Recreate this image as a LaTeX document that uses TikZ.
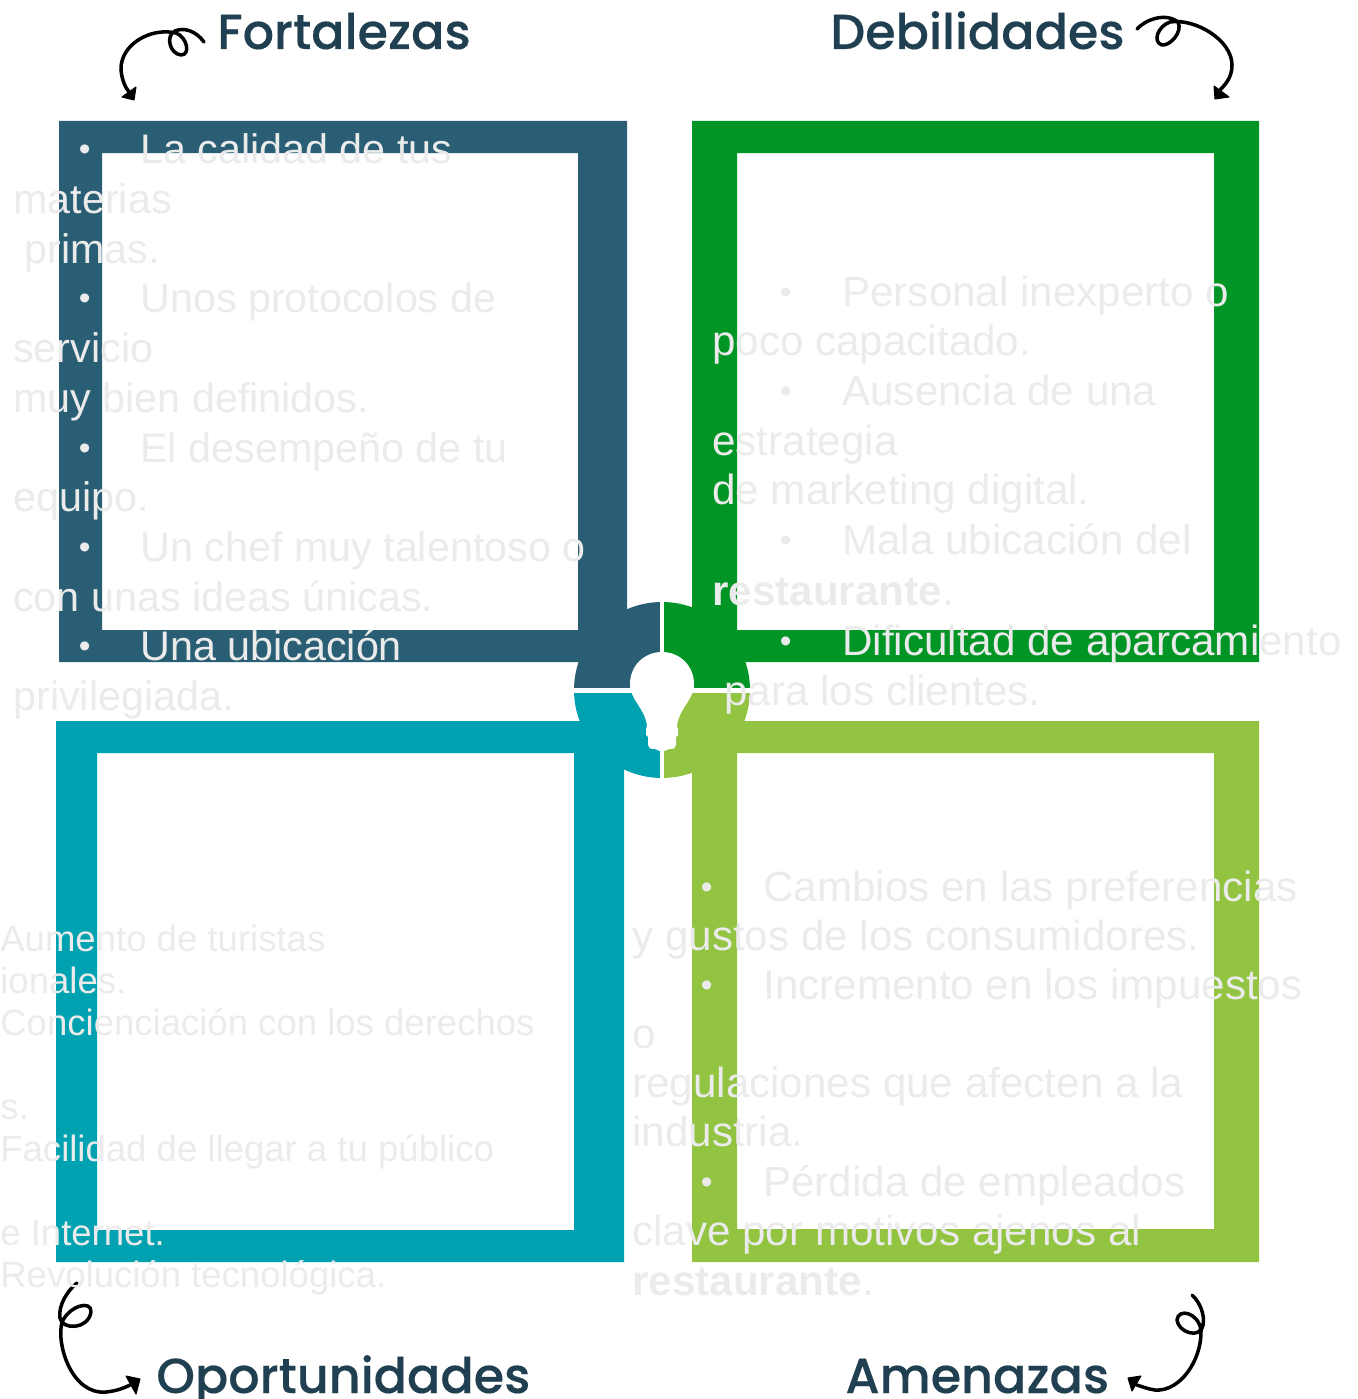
\documentclass[tikz,border=0pt]{standalone}
\usepackage{fontspec}
\setmainfont{Liberation Sans}
\newfontfamily\headfont[UprightFont={* Medium}, FakeBold=0.25]{Poppins}
\usetikzlibrary{arrows.meta}
\definecolor{fortcol}{HTML}{295E74}
\definecolor{debcol}{HTML}{019525}
\definecolor{opocol}{HTML}{00A2B1}
\definecolor{amecol}{HTML}{92C441}
\definecolor{headcol}{HTML}{203F50}
\definecolor{bodycol}{HTML}{EBEBEB}
\tikzset{
    body/.style={anchor=base west, inner sep=0pt, text=bodycol, font=\fontsize{23.5}{28}\selectfont},
    bodywide/.style={body, font=\fontsize{24}{28}\selectfont},
    bodysmall/.style={body, font=\fontsize{20.8}{24}\selectfont},
    bodybold/.style={body, font=\fontsize{24}{28}\selectfont\bfseries},
    dotmark/.style={body, font=\fontsize{19}{24}\selectfont, xshift=0.9pt, yshift=1.7pt},
    heading/.style={anchor=base west, inner sep=0pt, text=headcol, font=\headfont\fontsize{28}{32}\selectfont},
    squiggle/.style={line width=2pt, line cap=round, line join=round},
    squigtip/.style={fill=black, draw=black, line width=0.6pt, line join=round}
}
\begin{document}
\begin{tikzpicture}[x=0.02cm, y=-0.02cm]
    \useasboundingbox (0, 0) rectangle (1358, 1399);

    % frames
    \fill[fortcol, even odd rule] (59, 121) rectangle (627, 662) (102, 153) rectangle (578, 630);
    \fill[debcol, even odd rule] (692, 121) rectangle (1259, 662) (737, 153) rectangle (1214, 630);
    \fill[opocol, even odd rule] (56, 721) rectangle (624, 1262) (97, 753) rectangle (574, 1230);
    \fill[amecol, even odd rule] (692, 721) rectangle (1259, 1262) (737, 753) rectangle (1214, 1229);

    % centre disc
    \fill[fortcol] (662, 690) -- (574, 690) arc (180:270:88) -- cycle;
    \fill[debcol] (662, 690) -- (662, 602) arc (270:360:88) -- cycle;
    \fill[amecol] (662, 690) -- (750, 690) arc (0:90:88) -- cycle;
    \fill[opocol] (662, 690) -- (662, 778) arc (90:180:88) -- cycle;
    \draw[white, line width=2.3pt] (662, 600) -- (662, 780);
    \draw[white, line width=2.3pt] (572, 690.5) -- (752, 690.5);

    % bulb
    \fill[white] (662, 652) .. controls (644, 652) and (630, 666) .. (630, 684)
        .. controls (630, 700) and (645, 708) .. (647, 726) -- (646, 729) -- (646, 735) -- (648, 737) -- (648, 745)
        .. controls (648, 748) and (650, 749) .. (655, 749) -- (662, 752) -- (669, 749)
        .. controls (674, 749) and (676, 748) .. (676, 745) -- (676, 737) -- (678, 735) -- (678, 729) -- (677, 726)
        .. controls (679, 708) and (694, 700) .. (694, 684) .. controls (694, 666) and (680, 652) .. (662, 652) -- cycle;

    % headings
    \node[heading] (fort) at (217, 49) {Fortalezas};
    \node[heading] (deb) at (830, 49) {Debilidades};
    \node[heading] (opo) at (156, 1393) {Oportunidades};
    \node[heading] (ame) at (845, 1393) {Amenazas};

    % curly arrows
    \draw[squiggle] (204, 42) .. controls (196, 31) and (184, 27) .. (175, 31) .. controls (165, 36) and (170, 54) .. (181, 55)
        .. controls (191, 55) and (187, 37) .. (176, 33) .. controls (150, 27) and (120, 45) .. (121, 70)
        .. controls (122, 80) and (125, 87) .. (129, 92);
    \fill[squigtip] (122, 97) -- (136, 87) -- (134, 100) -- cycle;
    \draw[squiggle] (1137, 29) .. controls (1145, 20) and (1165, 12) .. (1178, 22) .. controls (1183, 32) and (1170, 46) .. (1162, 45)
        .. controls (1152, 42) and (1158, 26) .. (1170, 22) .. controls (1195, 18) and (1232, 40) .. (1232, 65)
        .. controls (1232, 78) and (1225, 85) .. (1218, 92);
    \draw[squigtip] (1214, 86) -- (1229, 97) -- (1215, 99) -- cycle;
    \draw[squiggle] (77, 1283) .. controls (68, 1290) and (58, 1305) .. (60, 1318) .. controls (62, 1330) and (88, 1330) .. (91, 1312)
        .. controls (92, 1300) and (70, 1305) .. (62, 1322) .. controls (56, 1345) and (72, 1395) .. (106, 1392)
        .. controls (115, 1391) and (122, 1389) .. (130, 1385);
    \fill[squigtip] (126, 1376) -- (140, 1379) -- (136, 1394) -- cycle;
    \draw[squiggle] (1192, 1295) .. controls (1200, 1302) and (1205, 1315) .. (1203, 1325) .. controls (1200, 1340) and (1178, 1332) .. (1177, 1320)
        .. controls (1178, 1308) and (1198, 1312) .. (1201, 1330) .. controls (1202, 1360) and (1180, 1392) .. (1155, 1390)
        .. controls (1148, 1389) and (1143, 1387) .. (1137, 1385);
    \fill[squigtip] (1128, 1378) -- (1141, 1376) -- (1132, 1391) -- cycle;

    % top left text
    \node[dotmark] (f1b) at (77, 163) {•};
    \node[body] (f1) at (140, 163) {La calidad de tus};
    \node[body] (f2) at (13, 213) {materias};
    \node[body] (f3) at (24, 263) {primas.};
    \node[dotmark] (f4b) at (77, 312) {•};
    \node[body] (f4) at (140, 312) {Unos protocolos de};
    \node[body] (f5) at (13, 362) {servicio};
    \node[body] (f6) at (13, 412) {muy bien definidos.};
    \node[dotmark] (f7b) at (77, 462) {•};
    \node[body] (f7) at (140, 462) {El desempeño de tu};
    \node[body] (f8) at (13, 511) {equipo.};
    \node[dotmark] (f9b) at (77, 561) {•};
    \node[body] (f9) at (140, 561) {Un chef muy talentoso o};
    \node[body] (f10) at (13, 611) {con unas ideas únicas.};
    \node[dotmark] (f11b) at (77, 660) {•};
    \node[body] (f11) at (140, 660) {Una ubicación};
    \node[body] (f12) at (13, 710) {privilegiada.};

    % top right text
    \node[dotmark] (d1b) at (778, 306) {•};
    \node[bodywide] (d1) at (842, 306) {Personal inexperto o};
    \node[bodywide] (d2) at (712, 355) {poco capacitado.};
    \node[dotmark] (d3b) at (778, 405) {•};
    \node[bodywide] (d3) at (842, 405) {Ausencia de una};
    \node[bodywide] (d4) at (712, 455) {estrategia};
    \node[bodywide] (d5) at (712, 504) {de marketing digital.};
    \node[dotmark] (d6b) at (778, 554) {•};
    \node[bodywide] (d6) at (842, 554) {Mala ubicación del};
    \node[bodybold] (d7) at (712, 605) {restaurante\textmd{.}};
    \node[dotmark] (d8b) at (778, 655) {•};
    \node[bodywide] (d8) at (842, 655) {Dificultad de aparcamiento};
    \node[bodywide] (d9) at (724, 705) {para los clientes.};

    % bottom left text
    \node[bodysmall] (o1) at (0, 951) {Aumento de turistas};
    \node[bodysmall] (o2) at (0, 993) {ionales.};
    \node[bodysmall] (o3) at (0, 1035) {Concienciación con los derechos};
    \node[bodysmall] (o4) at (0, 1119) {s.};
    \node[bodysmall] (o5) at (0, 1161) {Facilidad de llegar a tu público};
    \node[bodysmall] (o6) at (0, 1245) {e Internet.};
    \node[bodysmall] (o7) at (0, 1287) {Revolución tecnológica.};

    % bottom right text
    \node[dotmark] (a1b) at (699, 901) {•};
    \node[bodywide] (a1) at (763, 901) {Cambios en las preferencias};
    \node[bodywide] (a2) at (632, 950) {y gustos de los consumidores.};
    \node[dotmark] (a3b) at (699, 999) {•};
    \node[bodywide] (a3) at (763, 999) {Incremento en los impuestos};
    \node[bodywide] (a4) at (632, 1048) {o};
    \node[bodywide] (a5) at (632, 1097) {regulaciones que afecten a la};
    \node[bodywide] (a6) at (632, 1146) {industria.};
    \node[dotmark] (a7b) at (699, 1196) {•};
    \node[bodywide] (a7) at (763, 1196) {Pérdida de empleados};
    \node[bodywide] (a8) at (632, 1245) {clave por motivos ajenos al};
    \node[bodybold] (a9) at (632, 1295) {restaurante\textmd{.}};
\end{tikzpicture}
\end{document}
